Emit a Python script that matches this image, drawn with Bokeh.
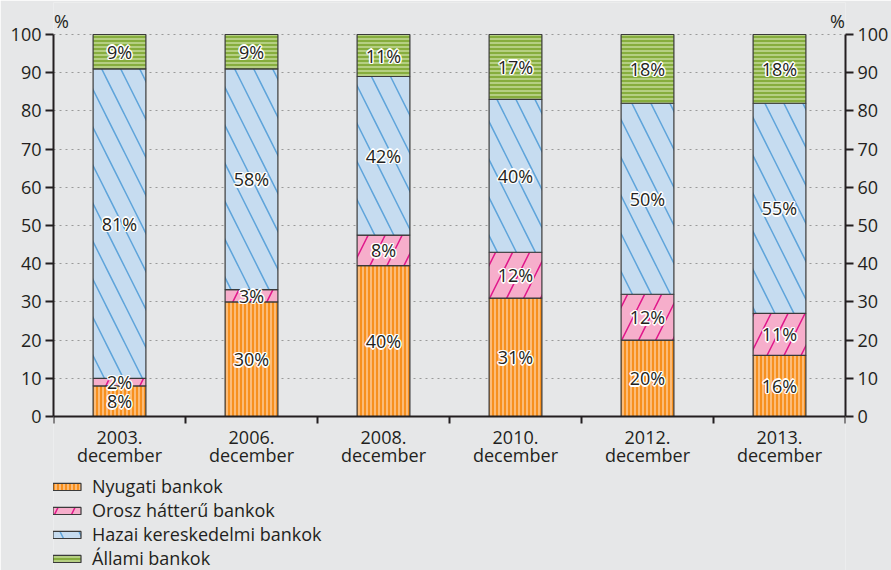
from bokeh.plotting import figure
from bokeh.models import (ColumnDataSource, LinearAxis, FixedTicker, Legend, LegendItem,
                          Range1d)
from bokeh.core.properties import value
from bokeh.embed import file_html
from bokeh.resources import INLINE

categories = ["2003.\ndecember", "2006.\ndecember", "2008.\ndecember",
              "2010.\ndecember", "2012.\ndecember", "2013.\ndecember"]
series_names = ["Nyugati bankok", "Orosz hátterű bankok",
                "Hazai kereskedelmi bankok", "Állami bankok"]
nyugati = [8, 30, 39.5, 31, 20, 16]
orosz = [2, 3.2, 8, 12, 12, 11]
hazai = [81, 57.8, 41.5, 40, 50, 55]
allami = [9, 9, 11, 17, 18, 18]
label_nyugati = ["8%", "30%", "40%", "31%", "20%", "16%"]
label_orosz = ["2%", "3%", "8%", "12%", "12%", "11%"]
label_hazai = ["81%", "58%", "42%", "40%", "50%", "55%"]
label_allami = ["9%", "9%", "11%", "17%", "18%", "18%"]
y_ticks = [0, 10, 20, 30, 40, 50, 60, 70, 80, 90, 100]
unit = "%"

FONT = "Open Sans"
TXT = "#231f20"
BG = "#e6e7e8"

# layout (pixels)
W, H = 891, 570
FRAME_L, FRAME_R = 53, 847
FRAME_T, FRAME_B = 2, 570
Y0_PX, Y100_PX = 416, 34
px_per_unit = (Y0_PX - Y100_PX) / 100.0
y_top = 100 + (Y100_PX - FRAME_T) / px_per_unit
y_bot = -(FRAME_B - Y0_PX) / px_per_unit

series = [nyugati, orosz, hazai, allami]
labels = [label_nyugati, label_orosz, label_hazai, label_allami]
styles = [
    dict(fill_color="#f7901e", hatch_pattern="|", hatch_color="#fdd9b5", hatch_scale=4, hatch_weight=1.2),
    dict(fill_color="#f6aecb", hatch_pattern="/", hatch_color="#e0168a", hatch_scale=34, hatch_weight=1.5),
    dict(fill_color="#c6dcf0", hatch_pattern="\\", hatch_color="#5ea4da", hatch_scale=38, hatch_weight=1.5),
    dict(fill_color="#86ad3d", hatch_pattern="-", hatch_color="#d5e6b0", hatch_scale=4, hatch_weight=1.2),
]
bar_line = dict(line_color="#3a3a3a", line_width=1.2)

xs = [i + 0.5 for i in range(len(categories))]
ncat = len(categories)
cat_px = (FRAME_R - FRAME_L) / ncat

p = figure(width=W, height=H, output_backend="svg", toolbar_location=None,
           x_range=Range1d(0, ncat), y_range=Range1d(y_bot, y_top),
           min_border_left=FRAME_L, min_border_right=W - FRAME_R,
           min_border_top=FRAME_T, min_border_bottom=H - FRAME_B,
           background_fill_color=BG, border_fill_color=BG, outline_line_color=None)

bottoms = [0.0] * ncat
items = []
text_x, text_y, text_s = [], [], []
for name, vals, labs, st in zip(series_names, series, labels, styles):
    tops = [b + v for b, v in zip(bottoms, vals)]
    src = ColumnDataSource(dict(x=xs, bottom=bottoms, top=tops))
    r = p.vbar(x="x", bottom="bottom", top="top", width=0.4, source=src, **bar_line, **st)
    items.append(LegendItem(label=name, renderers=[r]))
    for x, b, t, l in zip(xs, bottoms, tops, labs):
        text_x.append(x)
        text_y.append((b + t) / 2)
        text_s.append(l)
    bottoms = tops

tsrc = ColumnDataSource(dict(x=text_x, y=text_y, t=text_s))
for dx, dy in [(-1.5, 0), (1.5, 0), (0, -1.5), (0, 1.5), (-1, -1), (1, 1), (-1, 1), (1, -1)]:
    p.text(x="x", y="y", text="t", source=tsrc, text_align="center", text_baseline="middle",
           text_font=value(FONT), text_font_size="18px", text_color="white",
           x_offset=dx, y_offset=dy)
p.text(x="x", y="y", text="t", source=tsrc, text_align="center", text_baseline="middle",
       text_font=value(FONT), text_font_size="18px", text_color=TXT)

# unit labels above both axes
ux = 8 / cat_px
uy = 100 + 14 / px_per_unit
usrc = ColumnDataSource(dict(x=[ux, ncat - ux], y=[uy, uy], t=[unit, unit]))
p.text(x="x", y="y", text="t", source=usrc, text_align="center", text_baseline="middle",
       text_font=value(FONT), text_font_size="18px", text_color=TXT)

# grid
p.xgrid.grid_line_color = None
p.ygrid.ticker = FixedTicker(ticks=y_ticks)
p.ygrid.grid_line_color = "#9a9a9a"
p.ygrid.grid_line_dash = "2 4"
p.ygrid.grid_line_width = 1

# x axis, fixed at y = 0
xa = p.xaxis[0]
xa.fixed_location = 0
xa.ticker = FixedTicker(ticks=xs, minor_ticks=list(range(ncat + 1)))
xa.major_label_overrides = {x: c for x, c in zip(xs, categories)}
xa.major_tick_out = 0
xa.major_tick_in = 0
xa.minor_tick_out = 7
xa.minor_tick_in = 0
xa.minor_tick_line_width = 2
xa.minor_tick_line_color = TXT
xa.axis_line_width = 2
xa.axis_line_color = TXT
xa.major_label_text_font = FONT
xa.major_label_text_font_size = "18px"
xa.major_label_text_color = TXT
xa.major_label_text_line_height = 0.76
xa.major_label_standoff = 1

def style_y(ax):
    ax.ticker = FixedTicker(ticks=y_ticks)
    ax.bounds = (0, 100)
    ax.major_tick_out = 8
    ax.major_tick_in = 0
    ax.minor_tick_line_color = None
    ax.major_tick_line_width = 2
    ax.major_tick_line_color = TXT
    ax.axis_line_width = 2
    ax.axis_line_color = TXT
    ax.major_label_text_font = FONT
    ax.major_label_text_font_size = "18px"
    ax.major_label_text_color = TXT
    ax.major_label_standoff = 4

style_y(p.yaxis[0])
ra = LinearAxis()
style_y(ra)
p.add_layout(ra, "right")

legend = Legend(items=items, location=(-4, 0), orientation="vertical",
                glyph_width=35, glyph_height=9, label_height=19, spacing=-4,
                label_standoff=8, padding=0, margin=0,
                label_text_font=FONT, label_text_font_size="18px", label_text_color=TXT,
                border_line_color=None, background_fill_alpha=0)
p.add_layout(legend)

open("out.html", "w").write(file_html(p, INLINE))
